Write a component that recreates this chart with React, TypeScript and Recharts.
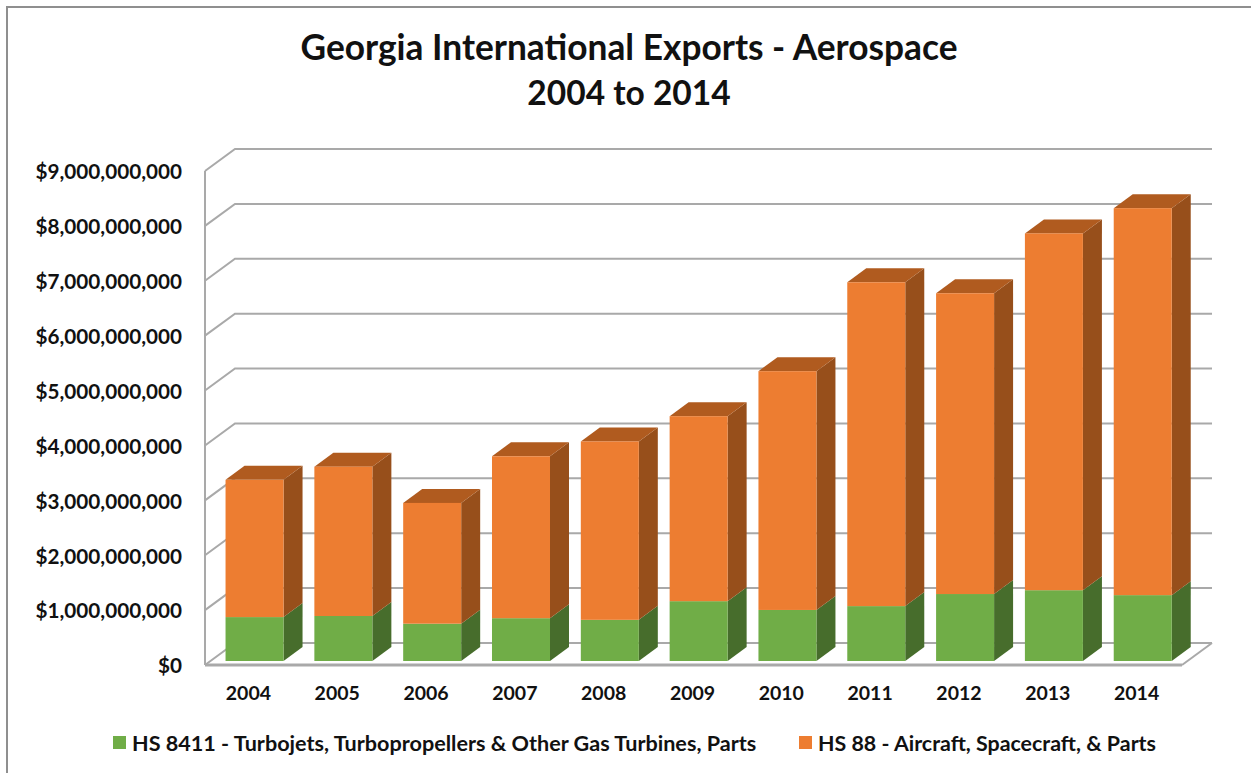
import React from 'react';
import { BarChart, Bar, XAxis, YAxis, CartesianGrid, Legend } from 'recharts';

const years = ['2004', '2005', '2006', '2007', '2008', '2009', '2010', '2011', '2012', '2013', '2014'];
const turbojets = [0.8, 0.82, 0.68, 0.78, 0.75, 1.09, 0.93, 1.0, 1.22, 1.29, 1.2];
const aircraft = [2.5, 2.72, 2.2, 2.95, 3.25, 3.37, 4.35, 5.9, 5.48, 6.5, 7.05];
const yTicks = [0, 1, 2, 3, 4, 5, 6, 7, 8, 9];
const turbojetName = 'HS 8411 - Turbojets, Turbopropellers & Other Gas Turbines, Parts';
const aircraftName = 'HS 88 - Aircraft, Spacecraft, & Parts';

const data = years.map((year, i) => ({
  year,
  turbojets: turbojets[i] * 1e9,
  aircraft: aircraft[i] * 1e9,
}));

const FONT = 'Lato, sans-serif';
const GRID = '#a9a9a9';
const BAR_DX = 19;
const BAR_DY = 14;

// fake 3D box: front, side and optional top face
const Box = ({ x, y, width, height, fill, side, top }: any) => {
  const fx = x + 5;
  const fy = y - 4;
  const r = fx + width;
  const b = fy + height;
  return (
    <g>
      <polygon points={`${r},${fy} ${r + BAR_DX},${fy - BAR_DY} ${r + BAR_DX},${b - BAR_DY} ${r},${b}`} fill={side} />
      {top && (
        <polygon points={`${fx},${fy} ${fx + BAR_DX},${fy - BAR_DY} ${r + BAR_DX},${fy - BAR_DY} ${r},${fy}`} fill={top} />
      )}
      <rect x={fx} y={fy} width={width} height={height} fill={fill} />
    </g>
  );
};

// every grid line runs along the side wall and then along the back wall
const WallLine = (props: any) => {
  const { x1, x2, y1 } = props;
  const isFloor = Math.abs(y1 - 665) < 1;
  return (
    <g>
      <polyline
        points={`${x1},${y1} ${x1 + 30},${y1 - 22} ${x2 + 30},${y1 - 22}`}
        fill="none"
        stroke={GRID}
        strokeWidth={2}
      />
      {isFloor && <line x1={x2} y1={y1} x2={x2 + 30} y2={y1 - 22} stroke={GRID} strokeWidth={2} />}
    </g>
  );
};

const ChartLegend = () => (
  <div style={{ position: 'relative', height: 48, fontFamily: FONT, fontWeight: 700, fontSize: 21.6, color: '#111' }}>
    <span style={{ position: 'absolute', left: 113, top: 11, width: 13, height: 13, background: '#70ad47' }} />
    <span style={{ position: 'absolute', left: 132, top: 5, whiteSpace: 'nowrap' }}>{turbojetName}</span>
    <span style={{ position: 'absolute', left: 799, top: 11, width: 13, height: 13, background: '#ed7d31' }} />
    <span style={{ position: 'absolute', left: 818, top: 5, whiteSpace: 'nowrap', fontSize: 21.4 }}>{aircraftName}</span>
  </div>
);

export default function App() {
  return (
    <div style={{ position: 'absolute', left: 0, top: 0, width: 1251, height: 773, background: '#fff', overflow: 'hidden' }}>
      <div style={{ position: 'absolute', left: 6, top: 6, width: 1245, height: 767, borderLeft: '2px solid #8f8f8f', borderTop: '2px solid #8f8f8f', boxSizing: 'border-box' }} />
      <div style={{ position: 'absolute', left: 0, top: 24, width: 1258, textAlign: 'center', fontFamily: FONT, fontWeight: 700, fontSize: 35.3, lineHeight: '45px', color: '#111' }}>
        Georgia International Exports - Aerospace
        <br />
        <span style={{ fontSize: 33.5 }}>2004 to 2014</span>
      </div>
      <BarChart
        width={1251}
        height={773}
        data={data}
        barCategoryGap="17.5%"
        margin={{ top: 171, right: 69, bottom: 0, left: 0 }}
        style={{ position: 'absolute', left: 0, top: 0 }}
      >
        <CartesianGrid vertical={false} horizontal={(p: any) => <WallLine key={p.key} {...p} />} />
        <XAxis
          dataKey="year"
          height={60}
          axisLine={{ stroke: GRID, strokeWidth: 3 }}
          tickLine={false}
          tickMargin={15}
          tick={{ fontFamily: FONT, fontWeight: 700, fontSize: 19.5, fill: '#111', dx: -1 }}
        />
        <YAxis
          width={205}
          domain={[0, 9e9]}
          ticks={yTicks.map((t) => t * 1e9)}
          interval={0}
          axisLine={{ stroke: GRID, strokeWidth: 2 }}
          tickLine={false}
          tickMargin={17}
          tickFormatter={(v: number) => `$${v.toLocaleString('en-US')}`}
          tick={{ fontFamily: FONT, fontWeight: 700, fontSize: 20.7, fill: '#111', dy: 1 }}
        />
        <Legend height={48} content={<ChartLegend />} />
        <Bar
          dataKey="turbojets"
          name={turbojetName}
          stackId="a"
          isAnimationActive={false}
          shape={(p: any) => <Box {...p} fill="#70ad47" side="#476d2c" />}
        />
        <Bar
          dataKey="aircraft"
          name={aircraftName}
          stackId="a"
          isAnimationActive={false}
          shape={(p: any) => <Box {...p} fill="#ed7d31" side="#974f1b" top="#b05b1f" />}
        />
      </BarChart>
    </div>
  );
}
